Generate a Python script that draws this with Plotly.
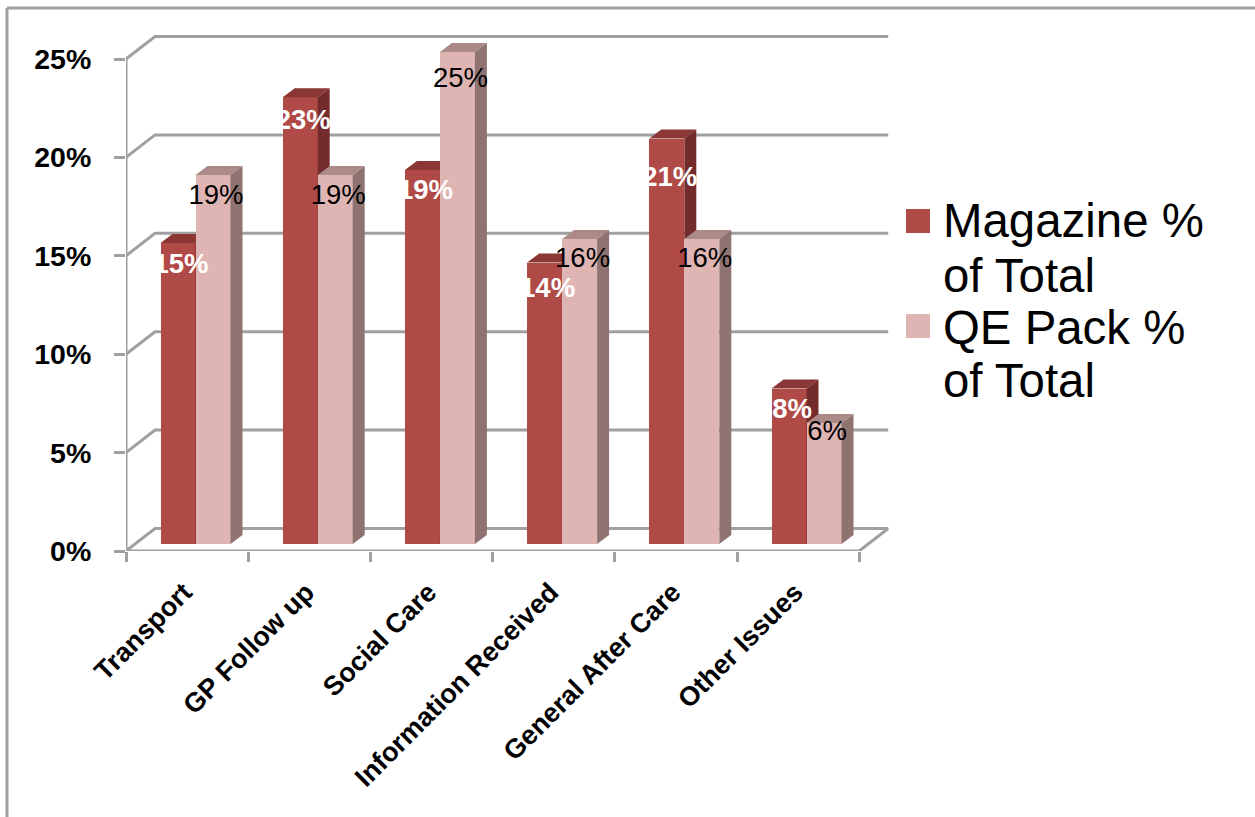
import plotly.graph_objects as go

# ---- data -------------------------------------------------------------
categories = ["Transport", "GP Follow up", "Social Care",
              "Information Received", "General After Care", "Other Issues"]
magazine_pct = [15.3, 22.7, 19.0, 14.3, 20.6, 7.9]
qe_pack_pct = [18.75, 18.75, 25.0, 15.5, 15.5, 6.15]
magazine_labels = ["15%", "23%", "19%", "14%", "21%", "8%"]
qe_pack_labels = ["19%", "19%", "25%", "16%", "16%", "6%"]
y_ticks = [0, 5, 10, 15, 20, 25]
y_tick_labels = ["0%", "5%", "10%", "15%", "20%", "25%"]
legend_lines_magazine = ["Magazine %", "of Total"]
legend_lines_qe = ["QE Pack %", "of Total"]

# ---- layout constants (pixels and styles, not data) --------------------
W, H = 1255, 817
M_L, M_R, M_T, M_B = 126, 365, 34, 266
PX_X = 122.2     # px per category
PX_Y = 19.68     # px per percent
GRID = "#A0A0A0"
FONT = "Liberation Sans"

WALL_DX, WALL_DY = 29 / PX_X, 22.5 / PX_Y
BAR_W = 35 / PX_X
BAR_START = 34.5 / PX_X
BAR_BASE = 7 / PX_Y
BAR_DX, BAR_DY = 12 / PX_X, 9 / PX_Y
LABEL_DX = 3 / PX_X
CATEGORY_LABEL_SHIFT = 3 / PX_X
drop_magazine = [23, 25, 22, 28, 41, 23]
drop_qe = [22, 22, 28, 21, 21, 10]

x_max = (W - M_L - M_R) / PX_X
y_max = (H - M_T - M_B) / PX_Y


def px(x):
    return (x - M_L) / (W - M_L - M_R)


def py(y):
    return 1 - (y - M_T) / (H - M_T - M_B)


fig = go.Figure()


def line(xs, ys):
    fig.add_trace(go.Scatter(x=xs, y=ys, mode="lines", cliponaxis=False,
                             line=dict(color=GRID, width=3),
                             hoverinfo="skip", showlegend=False))


# back wall gridlines with their side-wall connectors
for t in y_ticks:
    line([0, WALL_DX, len(categories) + WALL_DX],
         [t, t + WALL_DY, t + WALL_DY])
# front axes and the right floor edge
line([0, 0], [y_ticks[0], y_ticks[-1]])
line([0, len(categories), len(categories) + WALL_DX], [0, 0, WALL_DY])


def add_series(values, names, x_left, front, top, side, xa, ya):
    xs = [i + x_left + BAR_W / 2 for i in range(len(values))]
    fig.add_trace(go.Bar(x=xs, y=values, base=[BAR_BASE] * len(values),
                         width=BAR_W, marker=dict(color=front, line_width=0),
                         name=names, xaxis=xa, yaxis=ya, showlegend=False))
    for i, v in enumerate(values):
        x0 = i + x_left
        x1 = x0 + BAR_W
        y0 = BAR_BASE
        y1 = BAR_BASE + v
        fig.add_trace(go.Scatter(
            x=[x0, x1, x1 + BAR_DX, x0 + BAR_DX, x0],
            y=[y1, y1, y1 + BAR_DY, y1 + BAR_DY, y1],
            fill="toself", fillcolor=top, mode="lines", line_width=0,
            hoverinfo="skip", showlegend=False, xaxis=xa, yaxis=ya))
        fig.add_trace(go.Scatter(
            x=[x1, x1 + BAR_DX, x1 + BAR_DX, x1, x1],
            y=[y0, y0 + BAR_DY, y1 + BAR_DY, y1, y0],
            fill="toself", fillcolor=side, mode="lines", line_width=0,
            hoverinfo="skip", showlegend=False, xaxis=xa, yaxis=ya))


MAG = ("#B04A47", "#8A3735", "#732C2B")
QE = ("#DFB5B4", "#AB8A88", "#8F7371")
add_series(magazine_pct, "Magazine % of Total", BAR_START, *MAG, "x2", "y2")
add_series(qe_pack_pct, "QE Pack % of Total", BAR_START + BAR_W, *QE, "x3", "y3")


def add_labels(values, labels, drops, x_left, color, weight):
    fig.add_trace(go.Scatter(
        x=[i + x_left + BAR_W / 2 + LABEL_DX for i in range(len(values))],
        y=[BAR_BASE + v - d / PX_Y for v, d in zip(values, drops)],
        text=labels, mode="text", textposition="middle center", cliponaxis=False,
        textfont=dict(family=FONT, size=27.5, color=color, weight=weight),
        hoverinfo="skip", showlegend=False, xaxis="x3", yaxis="y3"))


add_labels(magazine_pct, magazine_labels, drop_magazine, BAR_START, "#FFFFFF", 700)
add_labels(qe_pack_pct, qe_pack_labels, drop_qe, BAR_START + BAR_W, "#000000", 400)

shapes = [
    dict(type="line", xref="paper", yref="paper", x0=px(7), x1=px(7),
         y0=py(8), y1=py(H), line=dict(color=GRID, width=3)),
    dict(type="line", xref="paper", yref="paper", x0=px(7), x1=px(W),
         y0=py(8), y1=py(8), line=dict(color=GRID, width=3)),
]
annotations = []
for color, lines, ys, sy in ((MAG[0], legend_lines_magazine, (220, 275), 221),
                             (QE[0], legend_lines_qe, (327, 380), 326)):
    shapes.append(dict(type="rect", xref="paper", yref="paper",
                       x0=px(906), x1=px(930), y0=py(sy + 12), y1=py(sy - 12),
                       fillcolor=color, line_width=0))
    for txt, y in zip(lines, ys):
        annotations.append(dict(text=txt, xref="paper", yref="paper",
                                x=px(941), y=py(y), xanchor="left", yanchor="middle",
                                showarrow=False,
                                font=dict(family=FONT, size=47.4, color="#000000")))

fig.update_layout(
    width=W, height=H,
    margin=dict(l=M_L, r=M_R, t=M_T, b=M_B, pad=0),
    paper_bgcolor="#FFFFFF", plot_bgcolor="#FFFFFF",
    showlegend=False, bargap=0,
    font=dict(family=FONT, color="#000000"),
    shapes=shapes, annotations=annotations,
    xaxis=dict(range=[0, x_max], showgrid=False, zeroline=False, showline=False,
               tickmode="array",
               tickvals=[i + 0.5 - CATEGORY_LABEL_SHIFT for i in range(len(categories))],
               ticktext=categories, ticks="", tickangle=-45,
               ticklabelstandoff=19,
               tickfont=dict(family=FONT, size=27, weight=700),
               minor=dict(tickmode="array",
                          tickvals=list(range(len(categories) + 1)),
                          ticks="outside", ticklen=10, tickwidth=3,
                          tickcolor=GRID, showgrid=False)),
    yaxis=dict(range=[0, y_max], showgrid=False, zeroline=False, showline=False,
               tickmode="array", tickvals=y_ticks, ticktext=y_tick_labels,
               ticks="outside", ticklen=11, tickwidth=3, tickcolor=GRID,
               ticklabelstandoff=17,
               tickfont=dict(family=FONT, size=28.5, weight=700)),
    xaxis2=dict(range=[0, x_max], overlaying="x", visible=False),
    yaxis2=dict(range=[0, y_max], overlaying="y", visible=False),
    xaxis3=dict(range=[0, x_max], overlaying="x", visible=False),
    yaxis3=dict(range=[0, y_max], overlaying="y", visible=False),
)

fig.write_html("out.html", config=dict(displayModeBar=False),
               post_script="document.body.style.margin='0';document.body.style.overflow='hidden';")
